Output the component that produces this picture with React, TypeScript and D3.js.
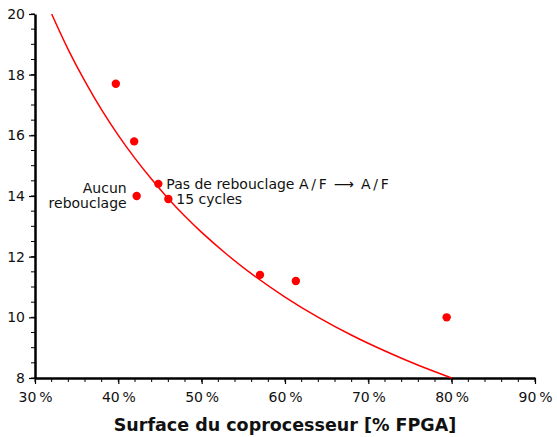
import React, { useEffect, useRef } from "react";
import * as d3 from "d3";

const WIDTH = 557;
const HEIGHT = 437;
const MARGIN = { top: 14, right: 22, bottom: 59, left: 35 };
const INNER_WIDTH = WIDTH - MARGIN.left - MARGIN.right;
const INNER_HEIGHT = HEIGHT - MARGIN.top - MARGIN.bottom;
const FONT = "'DejaVu Sans', sans-serif";
const RED = "#ff0000";

// measured points (surface %, value)
const POINT_X = [39.7, 41.9, 42.2, 44.8, 46.0, 57.0, 61.3, 79.4];
const POINT_Y = [17.7, 15.8, 14.0, 14.4, 13.9, 11.4, 11.2, 10.0];

// trend curve
const CURVE_X = [32, 34, 36, 38, 40, 42, 44, 46, 48, 50, 53, 56, 60, 64, 68, 72, 76, 80];
const CURVE_Y = [20, 18.82, 17.78, 16.84, 16, 15.24, 14.55, 13.91, 13.33, 12.8, 12.08, 11.43, 10.67, 10, 9.41, 8.89, 8.42, 8.0];

const X_TICKS = [30, 40, 50, 60, 70, 80, 90];
const Y_TICKS = [8, 10, 12, 14, 16, 18, 20];
const X_DOMAIN = [30, 90];
const Y_DOMAIN = [8, 20];
const X_TITLE = "Surface du coprocesseur [% FPGA]";

// annotations: index of point, lines, side
const LABELS = [
  { idx: 2, lines: ["Aucun", "rebouclage"], anchor: "end" },
  { idx: 3, lines: ["Pas de rebouclage A\u2009/\u2009F\u2002\u27F6\u2002A\u2009/\u2009F"], anchor: "start" },
  { idx: 4, lines: ["15 cycles"], anchor: "start" },
];

const X_SCALE = d3.scaleLinear().domain(X_DOMAIN).range([0, INNER_WIDTH]);
const Y_SCALE = d3.scaleLinear().domain(Y_DOMAIN).range([INNER_HEIGHT, 0]);

export default function App() {
  const ref = useRef<SVGSVGElement>(null);

  useEffect(() => {
    const root = d3.select(ref.current);
    root.selectAll("*").remove();
    const svg = root
      .append("g")
      .attr("transform", "translate(" + MARGIN.left + "," + MARGIN.top + ")");

    // minor ticks
    const xMinor = d3.range(X_DOMAIN[0], X_DOMAIN[1] + 0.001, 2);
    const yMinor = d3.range(Y_DOMAIN[0], Y_DOMAIN[1] + 0.001, 0.5);
    svg
      .append("g")
      .selectAll("line")
      .data(xMinor)
      .join("line")
      .attr("x1", (d) => X_SCALE(d))
      .attr("x2", (d) => X_SCALE(d))
      .attr("y1", INNER_HEIGHT)
      .attr("y2", INNER_HEIGHT + 4)
      .attr("stroke", "black")
      .attr("stroke-width", 1);
    svg
      .append("g")
      .selectAll("line")
      .data(yMinor)
      .join("line")
      .attr("y1", (d) => Y_SCALE(d))
      .attr("y2", (d) => Y_SCALE(d))
      .attr("x1", 0)
      .attr("x2", -4)
      .attr("stroke", "black")
      .attr("stroke-width", 1);

    // axes
    const xAxis = d3
      .axisBottom(X_SCALE)
      .tickValues(X_TICKS)
      .tickSize(6)
      .tickSizeOuter(0)
      .tickFormat((d) => d + "\u2009%");
    const yAxis = d3
      .axisLeft(Y_SCALE)
      .tickValues(Y_TICKS)
      .tickSize(6)
      .tickSizeOuter(0)
      .tickFormat((d) => String(d));
    const gx = svg
      .append("g")
      .attr("transform", "translate(0," + INNER_HEIGHT + ")")
      .call(xAxis);
    const gy = svg.append("g").call(yAxis);
    [gx, gy].forEach((g) => {
      g.select(".domain").attr("stroke-width", 2.5);
      g.selectAll(".tick line").attr("stroke-width", 1.2);
      g.selectAll(".tick text")
        .attr("font-family", FONT)
        .attr("font-size", "14px")
        .attr("fill", "#111");
    });
    gx.selectAll(".tick text").attr("dy", "1.1em");
    gy.selectAll(".tick text").attr("x", -10);

    // x title
    svg
      .append("text")
      .attr("x", INNER_WIDTH / 2)
      .attr("y", INNER_HEIGHT + 53)
      .attr("text-anchor", "middle")
      .attr("font-family", FONT)
      .attr("font-weight", "bold")
      .attr("font-size", "17.5px")
      .attr("fill", "#111")
      .text(X_TITLE);

    // curve
    const curve = CURVE_X.map((x, i) => ({ x: x, y: CURVE_Y[i] }));
    const line = d3
      .line<{ x: number; y: number }>()
      .x((d) => X_SCALE(d.x))
      .y((d) => Y_SCALE(d.y))
      .curve(d3.curveCatmullRom);
    svg
      .append("path")
      .attr("d", line(curve))
      .attr("fill", "none")
      .attr("stroke", RED)
      .attr("stroke-width", 1.5);

    // points
    svg
      .append("g")
      .selectAll("circle")
      .data(POINT_X.map((x, i) => ({ x: x, y: POINT_Y[i] })))
      .join("circle")
      .attr("cx", (d) => X_SCALE(d.x))
      .attr("cy", (d) => Y_SCALE(d.y))
      .attr("r", 4.2)
      .attr("fill", RED);

    // annotations
    LABELS.forEach((lab) => {
      const px = X_SCALE(POINT_X[lab.idx]);
      const py = Y_SCALE(POINT_Y[lab.idx]);
      const dx = lab.anchor === "end" ? -10 : 8;
      const t = svg
        .append("text")
        .attr("text-anchor", lab.anchor)
        .attr("font-family", FONT)
        .attr("font-size", "14px")
        .attr("fill", "#111");
      const y0 = lab.lines.length > 1 ? py - 3 : py + 5;
      lab.lines.forEach((s, k) => {
        t.append("tspan")
          .attr("x", px + dx)
          .attr("y", y0 + k * 15)
          .text(s);
      });
    });
  }, []);

  return (
    <svg
      ref={ref}
      width={WIDTH}
      height={HEIGHT}
      style={{ position: "absolute", left: 0, top: 0, background: "white" }}
    />
  );
}
